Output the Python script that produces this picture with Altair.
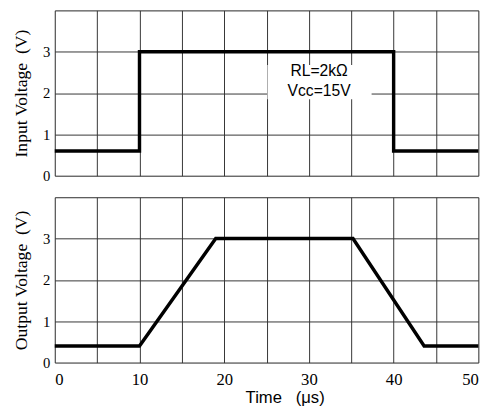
import altair as alt
import pandas as pd

# Input pulse (step) and output response of the amplifier
t_in = [0, 10, 10, 40, 40, 50]
v_in = [0.6, 0.6, 3.0, 3.0, 0.6, 0.6]
t_out = [0, 10, 19, 35.2, 43.6, 50]
v_out = [0.4, 0.4, 3.0, 3.0, 0.4, 0.4]

x_ticks = list(range(0, 51, 5))
y_ticks = [0, 1, 2, 3, 4]

note_lines = ["RL=2k\u03a9", "Vcc=15V"]
note_x = [31.2, 31.2]
note_y = [2.52, 2.05]
box_x = [25.1]
box_x2 = [37.4]
box_y = [1.85]
box_y2 = [2.68]

df_in = pd.DataFrame({"t": t_in, "v": v_in, "i": range(len(t_in))})
df_out = pd.DataFrame({"t": t_out, "v": v_out, "i": range(len(t_out))})
df_note = pd.DataFrame({"t": note_x, "v": note_y, "txt": note_lines})
df_box = pd.DataFrame({"x": box_x, "x2": box_x2, "y": box_y, "y2": box_y2})

W, H = 433, 169
serif = "Liberation Serif"
sans = "Liberation Sans"

xscale = alt.Scale(domain=[0, 50], nice=False, padding=0)
yscale = alt.Scale(domain=[0, 4], nice=False, padding=0)

def y_axis(title):
    return alt.Axis(
        values=y_ticks, title=title, grid=True, ticks=False, domain=False,
        labelExpr="datum.value == 4 ? '' : datum.label",
        labelFont=serif, labelFontSize=15, labelColor="black", labelPadding=5,
        titleFont=serif, titleFontSize=18, titleFontWeight="normal",
        titleColor="black", titlePadding=12,
        gridColor="#333", gridWidth=1, gridOpacity=1,
    )

x_axis_top = alt.Axis(
    values=x_ticks, title=None, labels=False, ticks=False, domain=False,
    grid=True, gridColor="#333", gridWidth=1, gridOpacity=1,
)
x_axis_bottom = alt.Axis(
    values=x_ticks, title="Time\u00a0\u00a0\u00a0(\u03bcs)", ticks=False, domain=False,
    grid=True, gridColor="#333", gridWidth=1, gridOpacity=1,
    labelExpr="datum.value % 10 == 0 ? datum.label : ''",
    labelFont=serif, labelFontSize=17, labelColor="black", labelPadding=9,
    titleFont=sans, titleFontSize=17, titleFontWeight="normal",
    titleColor="black", titlePadding=3, titleX=235,
)

line_in = alt.Chart(df_in).mark_line(color="black", strokeWidth=3.5).encode(
    x=alt.X("t:Q", scale=xscale, axis=x_axis_top),
    y=alt.Y("v:Q", scale=yscale, axis=y_axis("Input Voltage\u00a0 (V)")),
    order="i:O",
)
box = alt.Chart(df_box).mark_rect(fill="white", stroke=None).encode(
    x="x:Q", x2="x2:Q", y="y:Q", y2="y2:Q"
)
note = alt.Chart(df_note).mark_text(
    font=sans, fontSize=16, color="black", align="center", baseline="middle"
).encode(x="t:Q", y="v:Q", text="txt:N")

top = alt.layer(line_in, box, note).properties(width=W, height=H)

line_out = alt.Chart(df_out).mark_line(color="black", strokeWidth=3.5).encode(
    x=alt.X("t:Q", scale=xscale, axis=x_axis_bottom),
    y=alt.Y("v:Q", scale=yscale, axis=y_axis("Output Voltage\u00a0 (V)")),
    order="i:O",
)
bottom = alt.layer(line_out).properties(width=W, height=H)

chart = alt.vconcat(top, bottom, spacing=12).properties(
    padding={"left": 13, "top": 5, "right": 8, "bottom": 5}
).configure_view(stroke="black", strokeWidth=1.5).configure(background="white")

chart.save("out.html", embed_options={"renderer": "svg", "actions": False})
